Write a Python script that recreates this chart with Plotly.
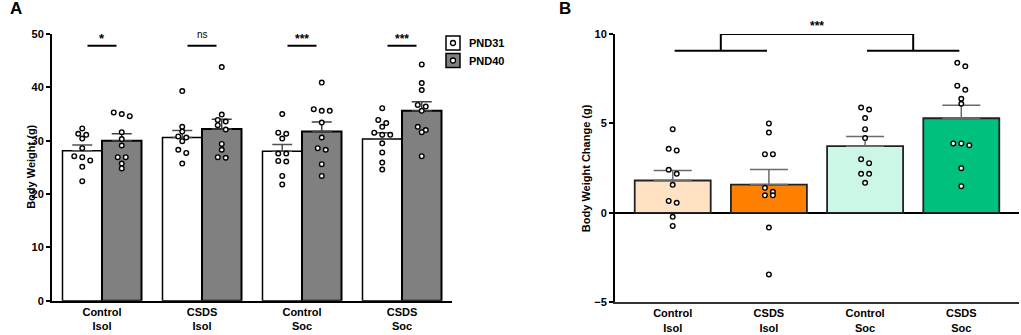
import plotly.graph_objects as go

# ---------------- data ----------------
categories = ["Control<br>Isol", "CSDS<br>Isol", "Control<br>Soc", "CSDS<br>Soc"]

pnd31_mean = [28.1, 30.6, 28.0, 30.3]
pnd31_sem = [1.1, 1.3, 1.3, 1.2]
pnd40_mean = [30.0, 32.2, 31.7, 35.6]
pnd40_sem = [1.3, 1.8, 1.8, 1.7]

pnd31_ctrl_isol = [32.3, 31.3, 31.1, 30.4, 28.6, 27.1, 26.9, 26.3, 25.1, 22.4]
pnd31_csds_isol = [39.3, 32.6, 31.7, 30.8, 30.6, 29.9, 28.3, 27.7, 25.7]
pnd31_ctrl_soc = [35.0, 31.5, 31.3, 30.4, 27.6, 27.6, 26.2, 26.1, 23.4, 21.8]
pnd31_csds_soc = [36.1, 33.9, 33.3, 32.6, 31.5, 31.1, 31.1, 29.5, 27.8, 25.9, 24.6]

pnd40_ctrl_isol = [35.3, 35.0, 34.6, 31.6, 30.3, 29.1, 26.9, 26.9, 25.7, 24.8]
pnd40_csds_isol = [43.8, 34.9, 33.9, 33.6, 32.9, 32.1, 29.4, 28.3, 26.9, 26.8]
pnd40_ctrl_soc = [40.9, 35.9, 35.6, 35.6, 33.4, 30.6, 28.6, 28.3, 25.6, 23.4]
pnd40_csds_soc = [44.3, 40.8, 39.5, 36.7, 36.4, 35.6, 32.6, 32.0, 31.6, 27.1]

change_mean = [1.81, 1.58, 3.73, 5.29]
change_sem = [0.56, 0.84, 0.54, 0.73]
change_ctrl_isol = [4.68, 3.58, 3.49, 2.41, 2.18, 1.57, 0.67, 0.56, -0.22, -0.73]
change_csds_isol = [5.0, 4.49, 3.28, 3.28, 1.40, 1.18, 0.98, 0.98, -0.82, -3.44]
change_ctrl_soc = [5.89, 5.78, 5.30, 4.68, 4.18, 3.0, 2.78, 2.18, 2.18, 1.68]
change_csds_soc = [8.39, 8.19, 7.11, 6.88, 6.38, 6.10, 3.88, 3.88, 3.78, 2.50, 1.49]

sig_a = ["*", "ns", "***", "***"]
legend_names = ["PND31", "PND40"]
b_colors = ["#FFE2C4", "#FF8000", "#CCF7E6", "#00C07D"]

pnd31_points = [pnd31_ctrl_isol, pnd31_csds_isol, pnd31_ctrl_soc, pnd31_csds_soc]
pnd40_points = [pnd40_ctrl_isol, pnd40_csds_isol, pnd40_ctrl_soc, pnd40_csds_soc]
change_points = [change_ctrl_isol, change_csds_isol, change_ctrl_soc, change_csds_soc]

# ---------------- geometry ----------------
W, H = 1021, 335
FONT = "Arial, Liberation Sans, sans-serif"
A_X = (52, 452); A_Y = (34, 300.7)
B_X = (615, 1019); B_Y = (34, 302.3)
A_XR = [-0.5, 3.5]; A_YR = [0, 50]
B_XR = [-0.6, 3.6]; B_YR = [-5, 10]
a_pxx = (A_X[1] - A_X[0]) / (A_XR[1] - A_XR[0])
a_pxy = (A_Y[1] - A_Y[0]) / (A_YR[1] - A_YR[0])
b_pxx = (B_X[1] - B_X[0]) / (B_XR[1] - B_XR[0])
b_pxy = (B_Y[1] - B_Y[0]) / (B_YR[1] - B_YR[0])


def px(x):
    return x / W


def py(y):
    return 1 - y / H


def swarm(vals, pxy, thresh=4.5, step=8.0):
    order = sorted(range(len(vals)), key=lambda i: -vals[i])
    rows = []
    for i in order:
        if rows and (vals[rows[-1][0]] - vals[i]) * pxy < thresh:
            rows[-1].append(i)
        else:
            rows.append([i])
    offs = [0.0] * len(vals)
    for r in rows:
        n = len(r)
        for k, i in enumerate(r):
            offs[i] = (k - (n - 1) / 2) * step
    return offs


fig = go.Figure()

# ---------------- Panel A ----------------
BW = 0.395
fig.add_trace(go.Bar(
    x=list(range(4)), y=pnd31_mean, width=BW, offset=-BW,
    marker=dict(color="white", line=dict(color="black", width=1.5)),
    error_y=dict(type="data", array=pnd31_sem, arrayminus=[0] * 4, symmetric=False,
                 color="#505050", thickness=1.5, width=10),
    xaxis="x", yaxis="y", showlegend=False))
fig.add_trace(go.Bar(
    x=list(range(4)), y=pnd40_mean, width=BW, offset=0,
    marker=dict(color="#808080", line=dict(color="black", width=2)),
    error_y=dict(type="data", array=pnd40_sem, arrayminus=[0] * 4, symmetric=False,
                 color="#404040", thickness=1.5, width=10),
    xaxis="x", yaxis="y", showlegend=False))

mk = dict(size=4.6, color="white", line=dict(color="black", width=1.4))
for gi, pts_list in enumerate([pnd31_points, pnd40_points]):
    shift = -BW / 2 if gi == 0 else BW / 2
    for ci, pts in enumerate(pts_list):
        offs = swarm(pts, a_pxy)
        fig.add_trace(go.Scatter(
            x=[ci + shift + o / a_pxx for o in offs], y=pts, mode="markers",
            marker=mk, xaxis="x", yaxis="y", showlegend=False, cliponaxis=False))

# ---------------- Panel B ----------------
fig.add_trace(go.Bar(
    x=list(range(4)), y=change_mean, width=0.79,
    marker=dict(color=b_colors, line=dict(color="#222222", width=1.8)),
    error_y=dict(type="data", array=change_sem, arrayminus=[0] * 4, symmetric=False,
                 color="#6a6a6a", thickness=1.5, width=19),
    xaxis="x2", yaxis="y2", showlegend=False))
for ci, pts in enumerate(change_points):
    offs = swarm(pts, b_pxy)
    fig.add_trace(go.Scatter(
        x=[ci + o / b_pxx for o in offs], y=pts, mode="markers",
        marker=mk, xaxis="x2", yaxis="y2", showlegend=False, cliponaxis=False))

tickf = dict(family=FONT, size=11, color="black", weight="bold")
fig.update_layout(
    width=W, height=H, margin=dict(l=0, r=0, t=0, b=0),
    paper_bgcolor="white", plot_bgcolor="white",
    barmode="overlay", font=dict(family=FONT),
    xaxis=dict(domain=[px(A_X[0]), px(A_X[1])], range=A_XR, tickvals=list(range(4)),
               ticktext=categories, ticks="", showline=True, linecolor="black", linewidth=2,
               showgrid=False, zeroline=False, tickfont=tickf, anchor="y", automargin=False,
               fixedrange=True),
    yaxis=dict(domain=[py(A_Y[1]), py(A_Y[0])], range=A_YR, tickvals=[0, 10, 20, 30, 40, 50],
               ticks="outside", ticklen=4, tickwidth=1.5, tickcolor="black",
               showline=True, linecolor="black", linewidth=2, showgrid=False, zeroline=False,
               tickfont=tickf, anchor="x", automargin=False),
    xaxis2=dict(domain=[px(B_X[0]), px(B_X[1])], range=B_XR, tickvals=list(range(4)),
                ticktext=categories, ticks="", showline=True, linecolor="#333333", linewidth=1.5,
                showgrid=False, zeroline=False, tickfont=tickf, anchor="y2", automargin=False),
    yaxis2=dict(domain=[py(B_Y[1]), py(B_Y[0])], range=B_YR, tickvals=[-5, 0, 5, 10],
                ticks="outside", ticklen=4, tickwidth=1.5, tickcolor="black",
                showline=True, linecolor="black", linewidth=2, showgrid=False,
                zeroline=True, zerolinecolor="black", zerolinewidth=2,
                tickfont=tickf, anchor="x2", automargin=False),
)

ann = []
shapes = []
# panel letters
ann.append(dict(text="<b>A</b>", x=px(8), y=py(9), xref="paper", yref="paper", xanchor="left",
                yanchor="middle", showarrow=False, font=dict(family=FONT, size=17, color="black")))
ann.append(dict(text="<b>B</b>", x=px(557), y=py(9), xref="paper", yref="paper", xanchor="left",
                yanchor="middle", showarrow=False, font=dict(family=FONT, size=17, color="black")))
# axis titles
ann.append(dict(text="<b>Body Weight (g)</b>", x=px(23.5), y=py((A_Y[0] + A_Y[1]) / 2), xref="paper",
                yref="paper", textangle=-90, showarrow=False,
                font=dict(family=FONT, size=11, color="black")))
ann.append(dict(text="<b>Body Weight Change (g)</b>", x=px(586), y=py((B_Y[0] + B_Y[1]) / 2),
                xref="paper", yref="paper", textangle=-90, showarrow=False,
                font=dict(family=FONT, size=11, color="black")))

# panel A significance
for ci, s in enumerate(sig_a):
    shapes.append(dict(type="line", xref="x", yref="y", x0=ci - 0.145, x1=ci + 0.145,
                       y0=47.8, y1=47.8, line=dict(color="black", width=2)))
    if s == "ns":
        f = dict(family=FONT, size=10, color="black")
        yy = 35
    else:
        f = dict(family=FONT, size=13 if s == "*" else 12, color="black", weight="bold")
        yy = 38.5
    ann.append(dict(text=s, x=ci, y=py(yy), xref="x", yref="paper", showarrow=False,
                    yanchor="middle", font=f))

# legend
for k, (name, fill) in enumerate(zip(legend_names, ["white", "#808080"])):
    y0, y1 = 36 + k * 17.5, 50 + k * 17.5
    shapes.append(dict(type="rect", xref="paper", yref="paper", x0=px(446), x1=px(460),
                       y0=py(y1), y1=py(y0), fillcolor=fill, line=dict(color="black", width=1.5)))
    cy = (y0 + y1) / 2
    shapes.append(dict(type="circle", xref="paper", yref="paper", x0=px(450.5), x1=px(455.5),
                       y0=py(cy + 2.5), y1=py(cy - 2.5), fillcolor="white",
                       line=dict(color="black", width=1.3)))
    ann.append(dict(text="<b>%s</b>" % name, x=px(467), y=py(cy), xref="paper", yref="paper",
                    xanchor="left", yanchor="middle", showarrow=False,
                    font=dict(family=FONT, size=11, color="black")))

# panel B bracket
lc = dict(color="black", width=2)
for c in (0.5, 2.5):
    shapes.append(dict(type="line", xref="x2", yref="y2", x0=c - 0.48, x1=c + 0.48,
                       y0=9.07, y1=9.07, line=lc))
    shapes.append(dict(type="line", xref="x2", yref="y2", x0=c, x1=c, y0=9.07, y1=10, line=lc))
shapes.append(dict(type="line", xref="x2", yref="y2", x0=0.5, x1=2.5, y0=10, y1=10, line=lc))
ann.append(dict(text="***", x=1.5, y=py(26.5), xref="x2", yref="paper", showarrow=False,
                yanchor="middle", font=dict(family=FONT, size=12, color="black", weight="bold")))

fig.update_layout(annotations=ann, shapes=shapes)
fig.write_html("out.html", config={"displayModeBar": False},
               post_script="document.body.style.margin='0';document.body.style.padding='0';")
